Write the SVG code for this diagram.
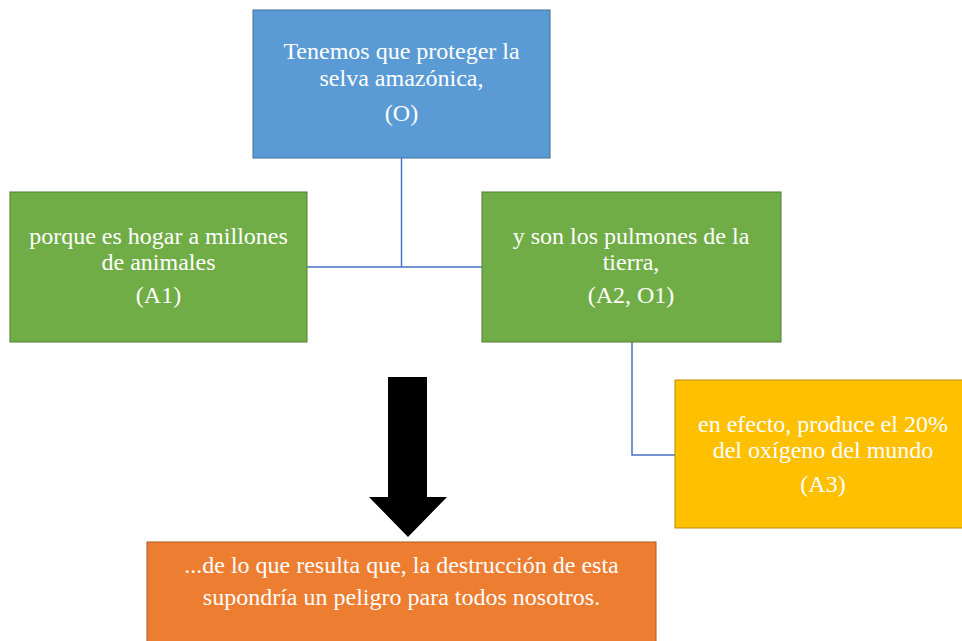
<svg xmlns="http://www.w3.org/2000/svg" width="962" height="641" viewBox="0 0 962 641">
<style>
.t{font-family:'Liberation Serif','Times New Roman','DejaVu Serif',serif;font-size:24px;fill:#ffffff;text-anchor:middle}
.c{fill:none;stroke:#4472C4;stroke-width:1.5}
</style>
<rect width="962" height="641" fill="#ffffff"/>
<g id="connectors">
<polyline class="c" points="401.5,158 401.5,267"/>
<polyline class="c" points="307,267 482,267"/>
<polyline class="c" points="632,342 632,455 675,455"/>
<polygon id="big-arrow" points="388,377 427,377 427,497 447,497 408,537 369,497 388,497" fill="#000000"/>
</g>
<g id="node-O">
<rect x="253" y="10" width="297" height="148" fill="#5B9BD5" stroke="#41719C" stroke-width="1"/>
<text class="t" x="401.5" y="59">Tenemos que proteger la</text>
<text class="t" x="401.5" y="86">selva amazónica,</text>
<text class="t" x="401.5" y="121">(O)</text>
</g>
<g id="node-A1">
<rect x="10" y="192" width="297" height="150" fill="#70AD47" stroke="#507E32" stroke-width="1"/>
<text class="t" x="158.5" y="244">porque es hogar a millones</text>
<text class="t" x="158.5" y="270">de animales</text>
<text class="t" x="158.5" y="303">(A1)</text>
</g>
<g id="node-A2">
<rect x="482" y="192" width="299" height="150" fill="#70AD47" stroke="#507E32" stroke-width="1"/>
<text class="t" x="631" y="244">y son los pulmones de la</text>
<text class="t" x="631" y="270">tierra,</text>
<text class="t" x="631" y="303">(A2, O1)</text>
</g>
<g id="node-A3">
<rect x="675" y="380" width="297" height="148" fill="#FFC000" stroke="#BC8C00" stroke-width="1"/>
<text class="t" x="823" y="432">en efecto, produce el 20%</text>
<text class="t" x="823" y="458">del oxígeno del mundo</text>
<text class="t" x="823" y="492">(A3)</text>
</g>
<g id="node-C">
<rect x="147" y="542" width="509" height="110" fill="#ED7D31" stroke="#AE5A21" stroke-width="1"/>
<text class="t" x="401.5" y="573">...de lo que resulta que, la destrucción de esta</text>
<text class="t" x="401.5" y="605">supondría un peligro para todos nosotros.</text>
</g>
</svg>
